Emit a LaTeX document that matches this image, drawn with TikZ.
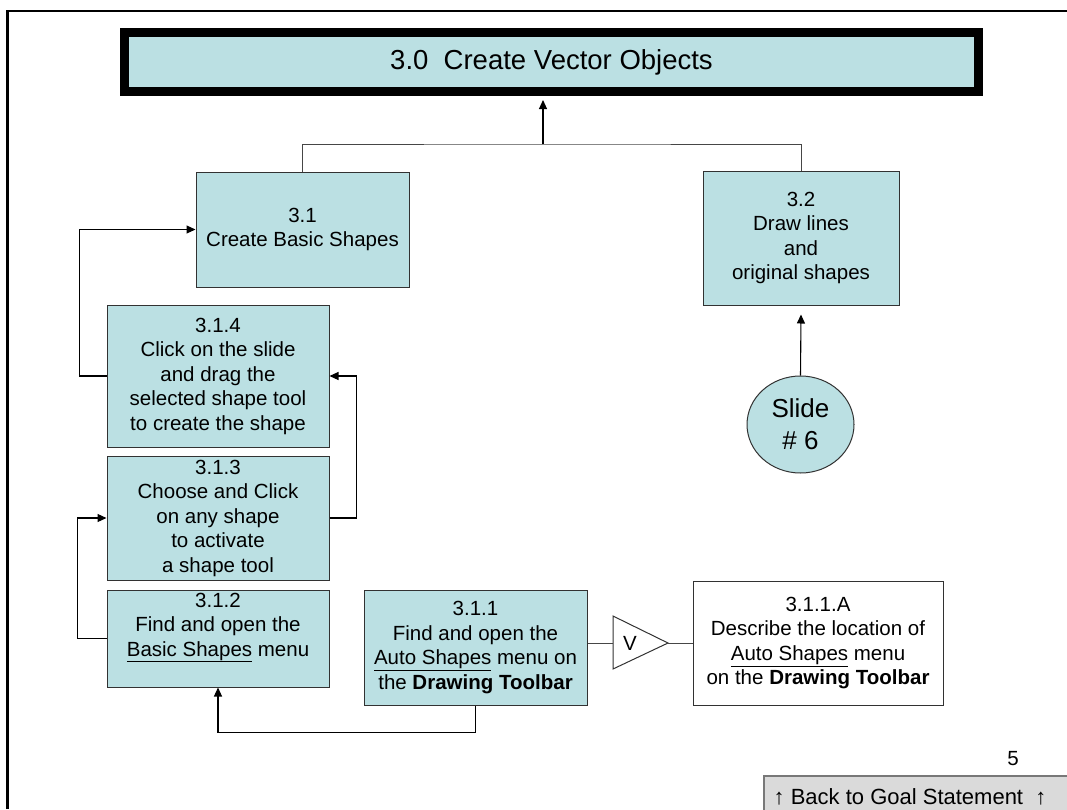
\documentclass[tikz,border=0pt]{standalone}
\usepackage{fontspec}
\setmainfont{Liberation Sans}
\usetikzlibrary{arrows.meta,shapes.geometric}

\definecolor{boxblue}{RGB}{187,224,227}
\definecolor{btnfill}{RGB}{218,218,218}
\definecolor{btnline}{RGB}{120,120,120}
\definecolor{edge}{RGB}{50,50,50}
\definecolor{treeline}{RGB}{70,70,70}

\tikzset{
  taskbox/.style={draw=edge, line width=1pt, fill=boxblue, align=center,
    inner sep=0pt, font=\fontsize{20.5}{24.5}\selectfont},
  notebox/.style={taskbox, fill=white},
  plain/.style={align=center, inner sep=0pt, font=\fontsize{20.5}{24.5}\selectfont},
  link/.style={draw=black, line width=1.1pt},
  treelink/.style={draw=treeline, line width=1pt},
  arr/.style={link, -{Triangle[length=9pt,width=8pt]}}
}

\begin{document}
\begin{tikzpicture}[x=1pt, y=-1pt]
\useasboundingbox (0,0) rectangle (1067,809);

% page frame
\draw[line width=2.2pt] (7.5,809) -- (7.5,11) -- (1067,11);

% goal box
\node[draw=black, line width=9pt, fill=boxblue, minimum width=854, minimum height=59,
      inner sep=0pt, font=\fontsize{27.5}{32}\selectfont] (title) at (551.5,62)
      {3.0~~Create Vector Objects};

% task boxes
\node[taskbox, minimum width=213, minimum height=115] (b31) at (302.5,229.5)
  {3.1\\Create Basic Shapes};
\node[taskbox, minimum width=196, minimum height=134] (b32) at (801,238)
  {3.2\\Draw lines\\and\\original shapes};
\node[taskbox, minimum width=222, minimum height=142] (b314) at (218,376)
  {3.1.4\\Click on the slide\\and drag the\\selected shape tool\\to create the shape};
\node[taskbox, minimum width=222, minimum height=124] (b313) at (218,518)
  {3.1.3\\Choose and Click\\on any shape\\to activate\\a shape tool};
\node[taskbox, minimum width=222, minimum height=97] (b312) at (218,638.5) {};
\node[plain] (t312) at ([yshift=11pt]b312.center)
  {3.1.2\\Find and open the\\\underline{Basic Shapes} menu};
\node[taskbox, minimum width=223, minimum height=115] (b311) at (475.5,647.5)
  {3.1.1\\Find and open the\\\underline{Auto Shapes} menu on\\the \textbf{Drawing Toolbar}};
\node[notebox, minimum width=250, minimum height=124] (b311A) at (818,643)
  {3.1.1.A\\Describe the location of\\\underline{Auto Shapes} menu\\on the \textbf{Drawing Toolbar}};

% slide reference
\node[ellipse, draw=edge, line width=1pt, fill=boxblue, minimum width=107, minimum height=97,
      inner sep=0pt, align=center, font=\fontsize{26}{32}\selectfont] (s6) at (800.5,424.5)
  {Slide\\\# 6};

% verification triangle
\coordinate (tl) at (613,643);
\coordinate (tip) at (668,643);
\draw[draw=edge, line width=1pt, fill=white] (613,616) -- (tip) -- (613,669) -- cycle;
\node[plain] (v) at (630,643) {V};

% connectors
\coordinate (hub) at (543,144);
\draw[treelink] (b31.north) |- (hub) -| (b32.north);
\draw[arr] (hub) -- ([yshift=-4pt]hub |- title.south);
\draw[arr] (s6.north) -- ([yshift=-9pt]b32.south);
\draw[arr] (b314.west) -- ++(-27,0) |- (b31.west);
\draw[arr] (b313.east) -- ++(27,0) |- (b314.east);
\draw[arr] (b312.west) -- ++(-29,0) |- (b313.west);
\draw[arr] (b311.south) -- ++(0,27) -| (b312.south);
\draw[treelink] (b311.east |- tl) -- (tl);
\draw[treelink] (tip) -- (b311A.west |- tip);

% page number and back button
\node[plain] (pg) at (1013,759) {5};
\draw[draw=btnline, line width=1.2pt, fill=btnfill] (764,776) rectangle (1080,820);
\node[plain, font=\fontsize{22}{26}\selectfont] (back) at (910,797) {↑ Back to Goal Statement~~↑};
\end{tikzpicture}
\end{document}
